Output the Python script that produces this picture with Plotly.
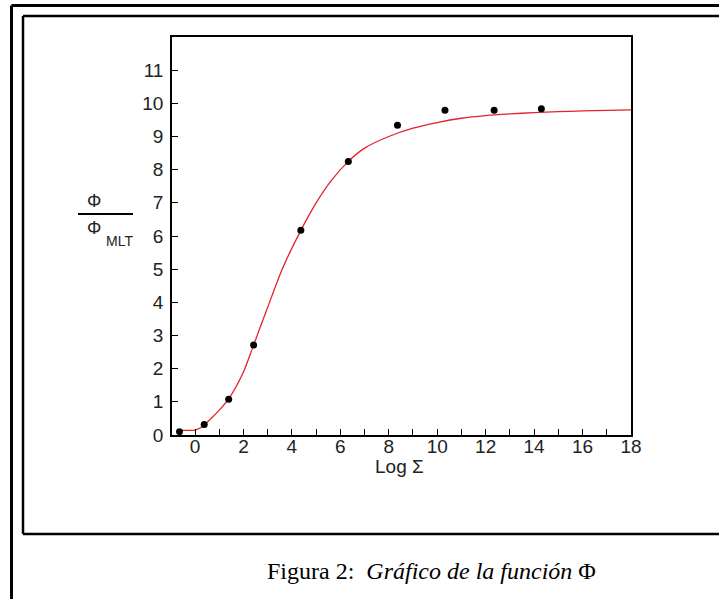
import plotly.graph_objects as go

# Canvas and plot-area geometry (pixels)
W, H = 719, 599
L, T, R, B = 172, 37, 631, 435

# Measured points: log(Sigma) vs Phi / Phi_MLT
log_sigma = [-0.64, 0.38, 1.39, 2.42, 4.37, 6.33, 8.36, 10.32, 12.35, 14.30]
phi_ratio = [0.10, 0.32, 1.08, 2.71, 6.17, 8.25, 9.34, 9.79, 9.79, 9.84]

# Fitted curve, sampled along log(Sigma)
fit_x = [-0.65, 0.0, 0.3, 0.6, 1.0, 1.4, 2.0, 2.42, 3.0, 3.6, 4.37, 5.0, 5.6,
         6.33, 7.0, 8.0, 9.0, 10.0, 11.0, 12.0, 13.0, 14.0, 15.0, 16.0, 17.0, 18.0]
fit_y = [0.15, 0.15, 0.25, 0.45, 0.75, 1.10, 1.90, 2.71, 3.85, 5.00, 6.17, 7.00, 7.65,
         8.25, 8.65, 9.00, 9.25, 9.42, 9.55, 9.63, 9.68, 9.72, 9.75, 9.77, 9.79, 9.80]

y_tick_values = list(range(0, 12))


def px(x):
    """pixel column -> paper x"""
    return (x - L) / (R - L)


def py(y):
    """pixel row -> paper y"""
    return (B - y) / (B - T)


fig = go.Figure()
fig.add_trace(go.Scatter(
    x=fit_x, y=fit_y, mode="lines",
    line=dict(color="#e3232c", width=1.3, shape="spline", smoothing=0.7),
    hoverinfo="skip",
))
fig.add_trace(go.Scatter(
    x=log_sigma, y=phi_ratio, mode="markers",
    marker=dict(color="black", size=7),
))

tick_font = dict(family="Liberation Sans", size=19, color="#222222")

fig.update_layout(
    width=W, height=H,
    margin=dict(l=L, r=W - R, t=T, b=H - B, pad=0),
    paper_bgcolor="white", plot_bgcolor="white",
    showlegend=False,
    font=tick_font,
)
fig.update_xaxes(
    range=[-0.95, 18.001],
    tickmode="linear", tick0=0, dtick=2,
    ticks="inside", ticklen=6, tickwidth=1.3, tickcolor="black",
    minor=dict(tickmode="linear", tick0=0, dtick=1, ticks="inside",
               ticklen=6, tickwidth=1.3, tickcolor="black"),
    showline=True, mirror=True, linecolor="black", linewidth=1.5,
    showgrid=False, zeroline=False, tickfont=tick_font,
    ticklabelstandoff=-7,
)
fig.update_yaxes(
    range=[0, 12],
    tickmode="array", tickvals=y_tick_values,
    ticks="inside", ticklen=6, tickwidth=1.3, tickcolor="black",
    showline=True, mirror=True, linecolor="black", linewidth=1.5,
    showgrid=False, zeroline=False, tickfont=tick_font,
    ticklabelstandoff=3,
)

# Frames around the figure
frame_lines = [
    # outer frame
    (11.5, 5.5, 11.5, 620, 3),
    (11.5, 5.5, 740, 5.5, 3),
    # inner box
    (23, 16, 23, 534, 2.5),
    (23, 16, 740, 16, 2.5),
    (23, 534, 740, 534, 2.5),
    # fraction bar of the y label
    (78, 214, 133, 214, 1.8),
]
for x0, y0, x1, y1, w in frame_lines:
    fig.add_shape(type="line", xref="paper", yref="paper",
                  x0=px(x0), y0=py(y0), x1=px(x1), y1=py(y1),
                  line=dict(color="black", width=w), layer="above")


def label(text, x, y, size, family="Liberation Sans", xanchor="center"):
    fig.add_annotation(text=text, xref="paper", yref="paper",
                       x=px(x), y=py(y), xanchor=xanchor, yanchor="middle",
                       showarrow=False, font=dict(family=family, size=size, color="#222222"))


# y-axis label: Phi / Phi_MLT
label("Φ", 94, 201, 18)
label("Φ", 94, 228, 18)
label("MLT", 104, 241, 14, xanchor="left")

# x-axis label
label("Log Σ", 399, 467, 19)

# caption
fig.add_annotation(text="Figura 2:  <i>Gráfico de la función</i> Φ",
                   xref="paper", yref="paper", x=px(431), y=py(571),
                   xanchor="center", yanchor="middle", showarrow=False,
                   font=dict(family="Liberation Serif", size=24, color="black"))

fig.write_html("out.html")
